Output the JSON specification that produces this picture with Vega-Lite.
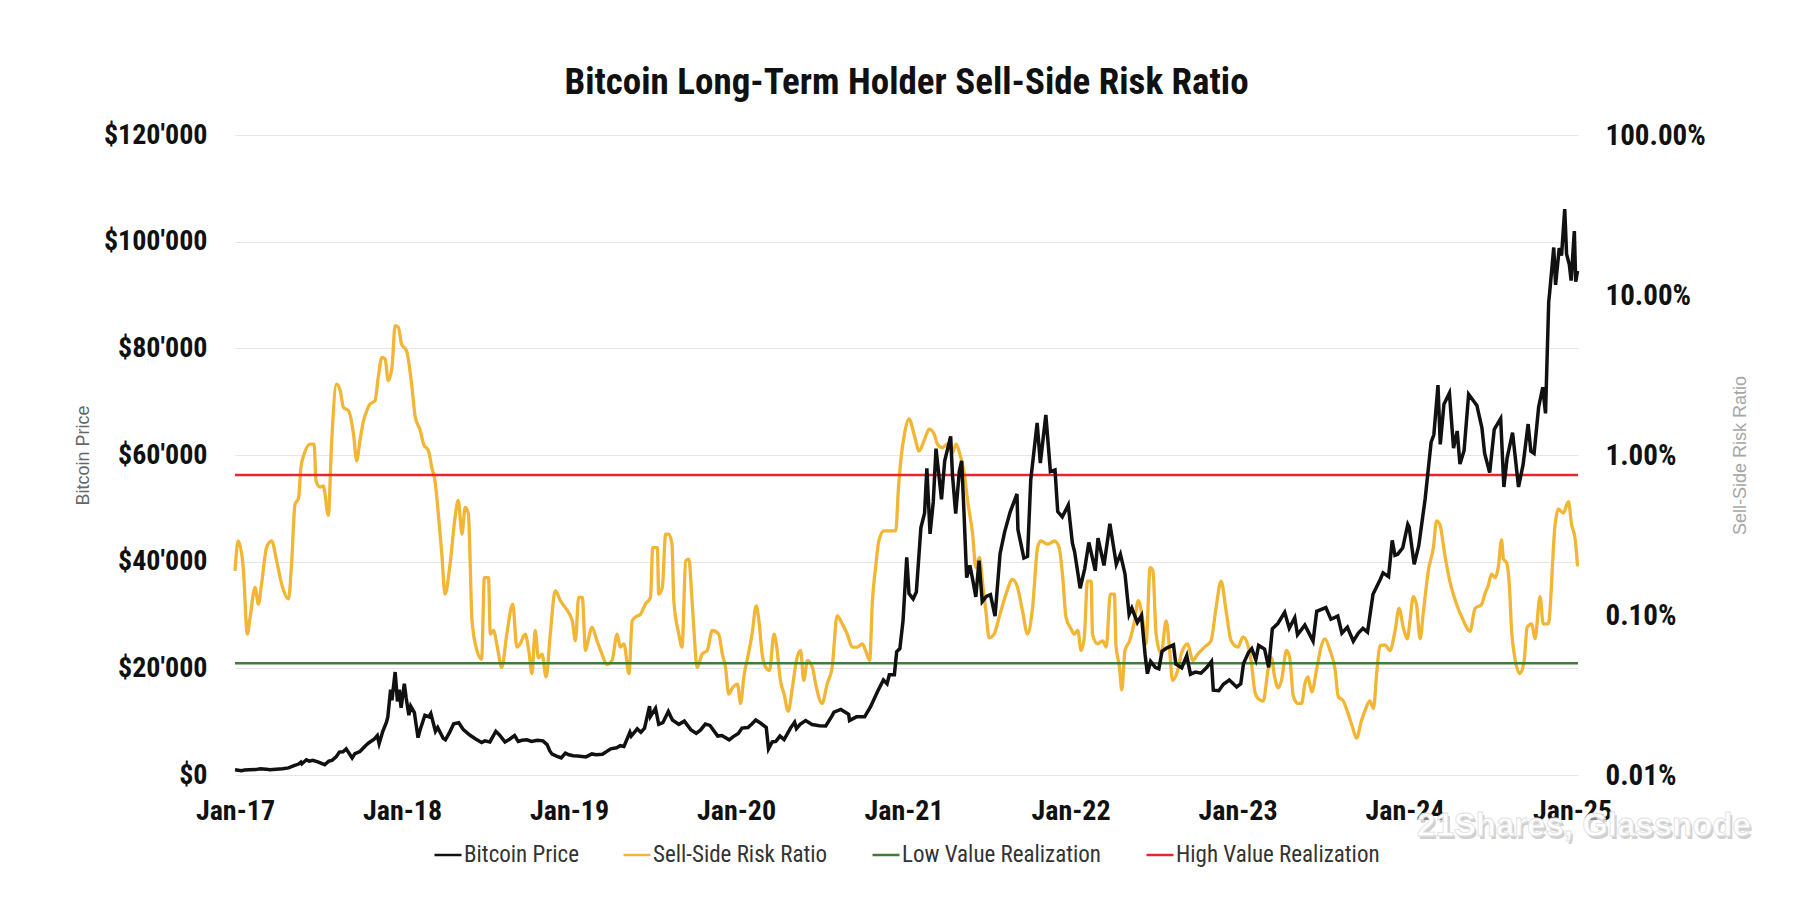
{
  "$schema": "https://vega.github.io/schema/vega-lite/v6.json",
  "autosize": {"type": "none"},
  "width": 1343,
  "height": 640,
  "padding": {"left": 235, "top": 135, "right": 228, "bottom": 139},
  "background": "white",
  "title": {
    "text": "Bitcoin Long-Term Holder Sell-Side Risk Ratio",
    "font": "Liberation Sans Narrow, Roboto Condensed, Roboto",
    "fontSize": 37,
    "fontWeight": "bold",
    "color": "#111111",
    "anchor": "middle",
    "offset": 19
  },
  "config": {
    "view": {"stroke": null},
    "locale": {
      "number": {"decimal": ".", "thousands": "'", "grouping": [3], "currency": ["$", ""]}
    },
    "axis": {
      "domain": false,
      "ticks": false,
      "tickSize": 0,
      "labelFont": "Liberation Sans Narrow, Roboto Condensed, Roboto",
      "labelFontWeight": "bold",
      "labelFontSize": 28,
      "labelColor": "#111111",
      "titleFont": "Liberation Sans",
      "titleFontWeight": "normal",
      "titleFontSize": 18
    },
    "legend": {
      "title": null,
      "orient": "none",
      "legendX": 198,
      "legendY": 705,
      "direction": "horizontal",
      "symbolType": "stroke",
      "symbolSize": 729,
      "symbolStrokeWidth": 2.5,
      "labelFont": "Liberation Sans Narrow, Roboto Condensed, Roboto",
      "labelFontSize": 23,
      "labelColor": "#333333",
      "labelLimit": 0,
      "labelOffset": 1,
      "columnPadding": 39
    }
  },
  "datasets": {
    "price": [
      {"date": "2017-01-01", "price": 998}, {"date": "2017-01-08", "price": 910}, {"date": "2017-01-15", "price": 820},
      {"date": "2017-01-22", "price": 925}, {"date": "2017-02-01", "price": 990}, {"date": "2017-02-15", "price": 1010},
      {"date": "2017-02-25", "price": 1150}, {"date": "2017-03-10", "price": 1100}, {"date": "2017-03-18", "price": 970},
      {"date": "2017-04-01", "price": 1080}, {"date": "2017-04-15", "price": 1180}, {"date": "2017-04-28", "price": 1330},
      {"date": "2017-05-10", "price": 1750}, {"date": "2017-05-20", "price": 2050}, {"date": "2017-05-25", "price": 2400},
      {"date": "2017-05-27", "price": 2100}, {"date": "2017-06-06", "price": 2860}, {"date": "2017-06-12", "price": 2600},
      {"date": "2017-06-20", "price": 2750}, {"date": "2017-07-01", "price": 2450}, {"date": "2017-07-16", "price": 1930},
      {"date": "2017-07-25", "price": 2600}, {"date": "2017-08-01", "price": 2750}, {"date": "2017-08-10", "price": 3400},
      {"date": "2017-08-17", "price": 4300}, {"date": "2017-08-25", "price": 4350}, {"date": "2017-09-01", "price": 4900},
      {"date": "2017-09-14", "price": 3200}, {"date": "2017-09-20", "price": 4000}, {"date": "2017-10-01", "price": 4400},
      {"date": "2017-10-12", "price": 5400}, {"date": "2017-10-20", "price": 6000}, {"date": "2017-11-01", "price": 6700},
      {"date": "2017-11-08", "price": 7400}, {"date": "2017-11-12", "price": 5900}, {"date": "2017-11-20", "price": 8200},
      {"date": "2017-11-28", "price": 9900}, {"date": "2017-12-01", "price": 10900}, {"date": "2017-12-07", "price": 16000},
      {"date": "2017-12-10", "price": 14000}, {"date": "2017-12-17", "price": 19300}, {"date": "2017-12-22", "price": 13800},
      {"date": "2017-12-26", "price": 16000}, {"date": "2017-12-30", "price": 12600}, {"date": "2018-01-06", "price": 17100},
      {"date": "2018-01-10", "price": 14500}, {"date": "2018-01-16", "price": 11200}, {"date": "2018-01-20", "price": 12900},
      {"date": "2018-01-28", "price": 11700}, {"date": "2018-02-05", "price": 7000}, {"date": "2018-02-10", "price": 8600},
      {"date": "2018-02-20", "price": 11200}, {"date": "2018-03-01", "price": 10900}, {"date": "2018-03-05", "price": 11500},
      {"date": "2018-03-15", "price": 8200}, {"date": "2018-03-20", "price": 8900}, {"date": "2018-04-01", "price": 6900},
      {"date": "2018-04-06", "price": 6600}, {"date": "2018-04-15", "price": 8000}, {"date": "2018-04-24", "price": 9600},
      {"date": "2018-05-05", "price": 9800}, {"date": "2018-05-15", "price": 8500}, {"date": "2018-05-29", "price": 7500},
      {"date": "2018-06-10", "price": 6800}, {"date": "2018-06-24", "price": 6100}, {"date": "2018-07-01", "price": 6400},
      {"date": "2018-07-12", "price": 6200}, {"date": "2018-07-25", "price": 8200}, {"date": "2018-08-01", "price": 7600},
      {"date": "2018-08-14", "price": 6200}, {"date": "2018-08-24", "price": 6700}, {"date": "2018-09-04", "price": 7400},
      {"date": "2018-09-12", "price": 6300}, {"date": "2018-09-20", "price": 6500}, {"date": "2018-10-01", "price": 6600},
      {"date": "2018-10-11", "price": 6300}, {"date": "2018-10-24", "price": 6500}, {"date": "2018-11-05", "price": 6400},
      {"date": "2018-11-14", "price": 5700}, {"date": "2018-11-20", "price": 4500}, {"date": "2018-11-25", "price": 3900},
      {"date": "2018-12-06", "price": 3500}, {"date": "2018-12-15", "price": 3200}, {"date": "2018-12-24", "price": 4100},
      {"date": "2019-01-01", "price": 3800}, {"date": "2019-01-10", "price": 3600}, {"date": "2019-01-20", "price": 3550},
      {"date": "2019-02-07", "price": 3400}, {"date": "2019-02-20", "price": 3950}, {"date": "2019-03-01", "price": 3820},
      {"date": "2019-03-15", "price": 3900}, {"date": "2019-04-02", "price": 4900}, {"date": "2019-04-15", "price": 5100},
      {"date": "2019-04-23", "price": 5500}, {"date": "2019-05-01", "price": 5350}, {"date": "2019-05-14", "price": 8000},
      {"date": "2019-05-17", "price": 7300}, {"date": "2019-05-30", "price": 8650}, {"date": "2019-06-07", "price": 8000},
      {"date": "2019-06-15", "price": 8800}, {"date": "2019-06-26", "price": 12900}, {"date": "2019-06-28", "price": 11000},
      {"date": "2019-07-09", "price": 12500}, {"date": "2019-07-16", "price": 9500}, {"date": "2019-07-25", "price": 9800},
      {"date": "2019-08-06", "price": 11900}, {"date": "2019-08-15", "price": 10300}, {"date": "2019-08-29", "price": 9500},
      {"date": "2019-09-10", "price": 10100}, {"date": "2019-09-24", "price": 8500}, {"date": "2019-10-06", "price": 7800},
      {"date": "2019-10-15", "price": 8400}, {"date": "2019-10-26", "price": 9550}, {"date": "2019-11-05", "price": 9300},
      {"date": "2019-11-22", "price": 7300}, {"date": "2019-12-01", "price": 7400}, {"date": "2019-12-17", "price": 6600},
      {"date": "2019-12-26", "price": 7200}, {"date": "2020-01-06", "price": 7800}, {"date": "2020-01-14", "price": 8800},
      {"date": "2020-01-27", "price": 8900}, {"date": "2020-02-05", "price": 9600}, {"date": "2020-02-13", "price": 10300},
      {"date": "2020-02-24", "price": 9700}, {"date": "2020-03-07", "price": 8900}, {"date": "2020-03-12", "price": 4900},
      {"date": "2020-03-20", "price": 6200}, {"date": "2020-03-28", "price": 6300}, {"date": "2020-04-06", "price": 7300},
      {"date": "2020-04-15", "price": 6650}, {"date": "2020-04-29", "price": 8800}, {"date": "2020-05-08", "price": 9900},
      {"date": "2020-05-12", "price": 8700}, {"date": "2020-05-20", "price": 9500}, {"date": "2020-06-01", "price": 10200},
      {"date": "2020-06-15", "price": 9450}, {"date": "2020-07-01", "price": 9250}, {"date": "2020-07-15", "price": 9200},
      {"date": "2020-07-28", "price": 11000}, {"date": "2020-08-02", "price": 11800}, {"date": "2020-08-17", "price": 12300},
      {"date": "2020-09-03", "price": 11400}, {"date": "2020-09-05", "price": 10200}, {"date": "2020-09-20", "price": 10900},
      {"date": "2020-10-08", "price": 10900}, {"date": "2020-10-21", "price": 12800}, {"date": "2020-11-05", "price": 15600},
      {"date": "2020-11-18", "price": 17800}, {"date": "2020-11-26", "price": 17100}, {"date": "2020-12-01", "price": 18800},
      {"date": "2020-12-12", "price": 18800}, {"date": "2020-12-17", "price": 23100}, {"date": "2020-12-24", "price": 23700},
      {"date": "2020-12-31", "price": 29000}, {"date": "2021-01-08", "price": 40800}, {"date": "2021-01-13", "price": 34000},
      {"date": "2021-01-22", "price": 33000}, {"date": "2021-01-29", "price": 34300}, {"date": "2021-02-08", "price": 46400},
      {"date": "2021-02-16", "price": 49100}, {"date": "2021-02-21", "price": 57500}, {"date": "2021-02-28", "price": 45200},
      {"date": "2021-03-07", "price": 51200}, {"date": "2021-03-13", "price": 61200}, {"date": "2021-03-25", "price": 51700},
      {"date": "2021-04-01", "price": 58900}, {"date": "2021-04-14", "price": 63500}, {"date": "2021-04-18", "price": 56200},
      {"date": "2021-04-25", "price": 49000}, {"date": "2021-05-03", "price": 57000}, {"date": "2021-05-08", "price": 58900},
      {"date": "2021-05-13", "price": 49500}, {"date": "2021-05-19", "price": 37000}, {"date": "2021-05-26", "price": 39300},
      {"date": "2021-06-01", "price": 36700}, {"date": "2021-06-08", "price": 33400}, {"date": "2021-06-15", "price": 40200},
      {"date": "2021-06-22", "price": 32500}, {"date": "2021-07-01", "price": 33500}, {"date": "2021-07-10", "price": 33800},
      {"date": "2021-07-20", "price": 29800}, {"date": "2021-07-31", "price": 41500}, {"date": "2021-08-10", "price": 45600},
      {"date": "2021-08-22", "price": 49300}, {"date": "2021-09-06", "price": 52700}, {"date": "2021-09-08", "price": 46000},
      {"date": "2021-09-21", "price": 40700}, {"date": "2021-09-29", "price": 41000}, {"date": "2021-10-06", "price": 55300},
      {"date": "2021-10-20", "price": 66000}, {"date": "2021-10-27", "price": 58500}, {"date": "2021-11-08", "price": 67500},
      {"date": "2021-11-18", "price": 56900}, {"date": "2021-11-28", "price": 57200}, {"date": "2021-12-04", "price": 49400},
      {"date": "2021-12-14", "price": 48400}, {"date": "2021-12-27", "price": 50600}, {"date": "2022-01-05", "price": 43500},
      {"date": "2022-01-10", "price": 41800}, {"date": "2022-01-22", "price": 35000}, {"date": "2022-02-01", "price": 38700},
      {"date": "2022-02-10", "price": 43600}, {"date": "2022-02-24", "price": 38300}, {"date": "2022-03-02", "price": 44400},
      {"date": "2022-03-15", "price": 39300}, {"date": "2022-03-28", "price": 47100}, {"date": "2022-04-11", "price": 39500},
      {"date": "2022-04-20", "price": 41400}, {"date": "2022-04-30", "price": 37700}, {"date": "2022-05-09", "price": 30100},
      {"date": "2022-05-15", "price": 31300}, {"date": "2022-05-27", "price": 28600}, {"date": "2022-06-05", "price": 29900},
      {"date": "2022-06-13", "price": 22500}, {"date": "2022-06-18", "price": 19000}, {"date": "2022-06-25", "price": 21300},
      {"date": "2022-07-05", "price": 20200}, {"date": "2022-07-13", "price": 19900}, {"date": "2022-07-20", "price": 23200},
      {"date": "2022-07-30", "price": 23800}, {"date": "2022-08-14", "price": 24400}, {"date": "2022-08-19", "price": 20800},
      {"date": "2022-09-01", "price": 20100}, {"date": "2022-09-12", "price": 22400}, {"date": "2022-09-20", "price": 18900},
      {"date": "2022-10-01", "price": 19300}, {"date": "2022-10-13", "price": 19100}, {"date": "2022-10-25", "price": 20100},
      {"date": "2022-11-05", "price": 21300}, {"date": "2022-11-09", "price": 15900}, {"date": "2022-11-21", "price": 15800},
      {"date": "2022-12-01", "price": 17000}, {"date": "2022-12-14", "price": 17800}, {"date": "2022-12-30", "price": 16500},
      {"date": "2023-01-08", "price": 17100}, {"date": "2023-01-14", "price": 20900}, {"date": "2023-01-25", "price": 23000},
      {"date": "2023-02-01", "price": 23700}, {"date": "2023-02-10", "price": 21600}, {"date": "2023-02-16", "price": 24300},
      {"date": "2023-03-01", "price": 23600}, {"date": "2023-03-10", "price": 20200}, {"date": "2023-03-18", "price": 27400},
      {"date": "2023-03-30", "price": 28400}, {"date": "2023-04-14", "price": 30500}, {"date": "2023-04-24", "price": 27500},
      {"date": "2023-05-06", "price": 29500}, {"date": "2023-05-12", "price": 26300}, {"date": "2023-05-28", "price": 28100},
      {"date": "2023-06-15", "price": 25100}, {"date": "2023-06-23", "price": 30700}, {"date": "2023-07-13", "price": 31400},
      {"date": "2023-07-24", "price": 29200}, {"date": "2023-08-08", "price": 29800}, {"date": "2023-08-17", "price": 26600},
      {"date": "2023-08-29", "price": 27700}, {"date": "2023-09-11", "price": 25100}, {"date": "2023-09-22", "price": 26600},
      {"date": "2023-10-02", "price": 27500}, {"date": "2023-10-12", "price": 26800}, {"date": "2023-10-24", "price": 33900},
      {"date": "2023-11-09", "price": 36700}, {"date": "2023-11-15", "price": 37900}, {"date": "2023-11-27", "price": 37200},
      {"date": "2023-12-05", "price": 44000}, {"date": "2023-12-11", "price": 41200}, {"date": "2023-12-17", "price": 41400},
      {"date": "2023-12-28", "price": 42600}, {"date": "2024-01-08", "price": 47000}, {"date": "2024-01-11", "price": 46500},
      {"date": "2024-01-22", "price": 39500}, {"date": "2024-02-01", "price": 43000}, {"date": "2024-02-15", "price": 51800},
      {"date": "2024-02-28", "price": 62400}, {"date": "2024-03-05", "price": 63800}, {"date": "2024-03-14", "price": 73100},
      {"date": "2024-03-19", "price": 62000}, {"date": "2024-03-27", "price": 69500}, {"date": "2024-04-08", "price": 71600},
      {"date": "2024-04-17", "price": 61300}, {"date": "2024-04-25", "price": 64500}, {"date": "2024-05-01", "price": 58300},
      {"date": "2024-05-10", "price": 60800}, {"date": "2024-05-20", "price": 71400}, {"date": "2024-06-07", "price": 69300},
      {"date": "2024-06-18", "price": 65100}, {"date": "2024-06-24", "price": 60300}, {"date": "2024-07-05", "price": 56700},
      {"date": "2024-07-15", "price": 64800}, {"date": "2024-07-29", "price": 66800}, {"date": "2024-08-05", "price": 54000},
      {"date": "2024-08-12", "price": 59400}, {"date": "2024-08-24", "price": 64200}, {"date": "2024-09-06", "price": 54000},
      {"date": "2024-09-16", "price": 58200}, {"date": "2024-09-27", "price": 65800}, {"date": "2024-10-03", "price": 60700},
      {"date": "2024-10-10", "price": 60300}, {"date": "2024-10-20", "price": 69000}, {"date": "2024-10-29", "price": 72700},
      {"date": "2024-11-04", "price": 67800}, {"date": "2024-11-11", "price": 88700}, {"date": "2024-11-13", "price": 90400},
      {"date": "2024-11-22", "price": 98900}, {"date": "2024-11-26", "price": 91900}, {"date": "2024-12-04", "price": 98800},
      {"date": "2024-12-09", "price": 97400}, {"date": "2024-12-16", "price": 106100}, {"date": "2024-12-20", "price": 97700},
      {"date": "2024-12-26", "price": 95700}, {"date": "2024-12-30", "price": 92700}, {"date": "2025-01-06", "price": 102000},
      {"date": "2025-01-09", "price": 92500}, {"date": "2025-01-13", "price": 94500}
    ],
    "ratio": [
      {"date": "2017-01-01", "ratio": 0.00189}, {"date": "2017-01-08", "ratio": 0.0029}, {"date": "2017-01-19", "ratio": 0.00198},
      {"date": "2017-01-28", "ratio": 0.00076}, {"date": "2017-02-03", "ratio": 0.00097}, {"date": "2017-02-14", "ratio": 0.00149},
      {"date": "2017-02-21", "ratio": 0.00117}, {"date": "2017-02-28", "ratio": 0.00156}, {"date": "2017-03-11", "ratio": 0.00264},
      {"date": "2017-03-22", "ratio": 0.0029}, {"date": "2017-04-02", "ratio": 0.00218}, {"date": "2017-04-13", "ratio": 0.00156},
      {"date": "2017-04-28", "ratio": 0.00126}, {"date": "2017-05-05", "ratio": 0.00218}, {"date": "2017-05-12", "ratio": 0.0049},
      {"date": "2017-05-20", "ratio": 0.0054}, {"date": "2017-05-25", "ratio": 0.00836}, {"date": "2017-06-01", "ratio": 0.0101},
      {"date": "2017-06-14", "ratio": 0.0117}, {"date": "2017-06-23", "ratio": 0.0117}, {"date": "2017-06-27", "ratio": 0.0069},
      {"date": "2017-07-06", "ratio": 0.0063}, {"date": "2017-07-13", "ratio": 0.0064}, {"date": "2017-07-24", "ratio": 0.0042},
      {"date": "2017-07-31", "ratio": 0.0117}, {"date": "2017-08-11", "ratio": 0.0277}, {"date": "2017-08-19", "ratio": 0.0252},
      {"date": "2017-08-26", "ratio": 0.0198}, {"date": "2017-09-06", "ratio": 0.0189}, {"date": "2017-09-17", "ratio": 0.0135},
      {"date": "2017-09-24", "ratio": 0.0092}, {"date": "2017-10-01", "ratio": 0.0123}, {"date": "2017-10-09", "ratio": 0.0164},
      {"date": "2017-10-16", "ratio": 0.0189}, {"date": "2017-10-23", "ratio": 0.0208}, {"date": "2017-11-03", "ratio": 0.0218},
      {"date": "2017-11-10", "ratio": 0.0305}, {"date": "2017-11-18", "ratio": 0.0407}, {"date": "2017-11-25", "ratio": 0.0398},
      {"date": "2017-12-02", "ratio": 0.0291}, {"date": "2017-12-10", "ratio": 0.0353}, {"date": "2017-12-17", "ratio": 0.0643},
      {"date": "2017-12-24", "ratio": 0.0628}, {"date": "2017-12-31", "ratio": 0.0493}, {"date": "2018-01-11", "ratio": 0.0448},
      {"date": "2018-01-22", "ratio": 0.0277}, {"date": "2018-01-30", "ratio": 0.0172}, {"date": "2018-02-10", "ratio": 0.0142},
      {"date": "2018-02-17", "ratio": 0.0117}, {"date": "2018-02-28", "ratio": 0.0106}, {"date": "2018-03-07", "ratio": 0.00836},
      {"date": "2018-03-14", "ratio": 0.0069}, {"date": "2018-03-22", "ratio": 0.0041}, {"date": "2018-03-29", "ratio": 0.0024},
      {"date": "2018-04-05", "ratio": 0.00135}, {"date": "2018-04-16", "ratio": 0.00208}, {"date": "2018-04-27", "ratio": 0.0041},
      {"date": "2018-05-04", "ratio": 0.0052}, {"date": "2018-05-12", "ratio": 0.0032}, {"date": "2018-05-19", "ratio": 0.0047},
      {"date": "2018-05-26", "ratio": 0.0043}, {"date": "2018-06-03", "ratio": 0.00092}, {"date": "2018-06-14", "ratio": 0.000597},
      {"date": "2018-06-24", "ratio": 0.000529}, {"date": "2018-06-30", "ratio": 0.00171}, {"date": "2018-07-09", "ratio": 0.00171},
      {"date": "2018-07-13", "ratio": 0.00076}, {"date": "2018-07-20", "ratio": 0.0008}, {"date": "2018-07-27", "ratio": 0.00066},
      {"date": "2018-08-07", "ratio": 0.00047}, {"date": "2018-08-18", "ratio": 0.00076}, {"date": "2018-08-31", "ratio": 0.00117},
      {"date": "2018-09-09", "ratio": 0.00063}, {"date": "2018-09-16", "ratio": 0.00066}, {"date": "2018-09-27", "ratio": 0.00076},
      {"date": "2018-10-05", "ratio": 0.0006}, {"date": "2018-10-12", "ratio": 0.00043}, {"date": "2018-10-19", "ratio": 0.0008},
      {"date": "2018-10-26", "ratio": 0.00054}, {"date": "2018-11-03", "ratio": 0.00057}, {"date": "2018-11-12", "ratio": 0.00041},
      {"date": "2018-11-21", "ratio": 0.00076}, {"date": "2018-12-02", "ratio": 0.00142}, {"date": "2018-12-13", "ratio": 0.00123},
      {"date": "2018-12-24", "ratio": 0.00111}, {"date": "2019-01-08", "ratio": 0.00092}, {"date": "2019-01-15", "ratio": 0.00069},
      {"date": "2019-01-22", "ratio": 0.00129}, {"date": "2019-01-30", "ratio": 0.00129}, {"date": "2019-02-06", "ratio": 0.0006},
      {"date": "2019-02-13", "ratio": 0.00072}, {"date": "2019-02-20", "ratio": 0.00084}, {"date": "2019-03-03", "ratio": 0.00069},
      {"date": "2019-03-14", "ratio": 0.00057}, {"date": "2019-03-25", "ratio": 0.00049}, {"date": "2019-04-05", "ratio": 0.00052},
      {"date": "2019-04-16", "ratio": 0.00076}, {"date": "2019-04-23", "ratio": 0.00063}, {"date": "2019-05-01", "ratio": 0.00066},
      {"date": "2019-05-12", "ratio": 0.00043}, {"date": "2019-05-19", "ratio": 0.00092}, {"date": "2019-05-26", "ratio": 0.00097},
      {"date": "2019-06-06", "ratio": 0.00101}, {"date": "2019-06-17", "ratio": 0.00117}, {"date": "2019-06-28", "ratio": 0.00129},
      {"date": "2019-07-03", "ratio": 0.00264}, {"date": "2019-07-13", "ratio": 0.00264}, {"date": "2019-07-16", "ratio": 0.00135},
      {"date": "2019-07-24", "ratio": 0.00149}, {"date": "2019-07-31", "ratio": 0.0032}, {"date": "2019-08-07", "ratio": 0.0032},
      {"date": "2019-08-14", "ratio": 0.00277}, {"date": "2019-08-18", "ratio": 0.00123}, {"date": "2019-08-29", "ratio": 0.00076},
      {"date": "2019-09-05", "ratio": 0.00063}, {"date": "2019-09-13", "ratio": 0.00218}, {"date": "2019-09-20", "ratio": 0.00223},
      {"date": "2019-09-26", "ratio": 0.00135}, {"date": "2019-10-01", "ratio": 0.0008}, {"date": "2019-10-08", "ratio": 0.00047},
      {"date": "2019-10-19", "ratio": 0.00057}, {"date": "2019-10-30", "ratio": 0.0006}, {"date": "2019-11-10", "ratio": 0.0008},
      {"date": "2019-11-24", "ratio": 0.00076}, {"date": "2019-12-02", "ratio": 0.00057}, {"date": "2019-12-09", "ratio": 0.00047},
      {"date": "2019-12-16", "ratio": 0.00032}, {"date": "2019-12-24", "ratio": 0.00035}, {"date": "2020-01-04", "ratio": 0.00037},
      {"date": "2020-01-11", "ratio": 0.00028}, {"date": "2020-01-18", "ratio": 0.00041}, {"date": "2020-01-28", "ratio": 0.00057},
      {"date": "2020-02-05", "ratio": 0.00076}, {"date": "2020-02-14", "ratio": 0.00114}, {"date": "2020-02-20", "ratio": 0.00092},
      {"date": "2020-02-27", "ratio": 0.00057}, {"date": "2020-03-06", "ratio": 0.00047}, {"date": "2020-03-14", "ratio": 0.00045},
      {"date": "2020-03-24", "ratio": 0.00076}, {"date": "2020-03-29", "ratio": 0.00066}, {"date": "2020-04-07", "ratio": 0.00039},
      {"date": "2020-04-15", "ratio": 0.00032}, {"date": "2020-04-24", "ratio": 0.00025}, {"date": "2020-05-03", "ratio": 0.00035},
      {"date": "2020-05-12", "ratio": 0.00052}, {"date": "2020-05-21", "ratio": 0.0006}, {"date": "2020-05-28", "ratio": 0.00039},
      {"date": "2020-06-05", "ratio": 0.00052}, {"date": "2020-06-16", "ratio": 0.00047}, {"date": "2020-06-23", "ratio": 0.00037},
      {"date": "2020-07-07", "ratio": 0.00028}, {"date": "2020-07-18", "ratio": 0.00037}, {"date": "2020-07-29", "ratio": 0.00047},
      {"date": "2020-08-09", "ratio": 0.00099}, {"date": "2020-08-20", "ratio": 0.00088}, {"date": "2020-08-31", "ratio": 0.00076},
      {"date": "2020-09-11", "ratio": 0.00063}, {"date": "2020-09-22", "ratio": 0.00063}, {"date": "2020-10-03", "ratio": 0.00066},
      {"date": "2020-10-10", "ratio": 0.0006}, {"date": "2020-10-19", "ratio": 0.00052}, {"date": "2020-10-25", "ratio": 0.00123},
      {"date": "2020-11-01", "ratio": 0.00198}, {"date": "2020-11-08", "ratio": 0.0029}, {"date": "2020-11-19", "ratio": 0.00336},
      {"date": "2020-12-04", "ratio": 0.00336}, {"date": "2020-12-15", "ratio": 0.00336}, {"date": "2020-12-21", "ratio": 0.0063},
      {"date": "2020-12-26", "ratio": 0.0092}, {"date": "2021-01-03", "ratio": 0.0135}, {"date": "2021-01-13", "ratio": 0.0168},
      {"date": "2021-01-24", "ratio": 0.0135}, {"date": "2021-02-04", "ratio": 0.0106}, {"date": "2021-02-15", "ratio": 0.0123},
      {"date": "2021-02-26", "ratio": 0.0145}, {"date": "2021-03-09", "ratio": 0.0135}, {"date": "2021-03-16", "ratio": 0.0117},
      {"date": "2021-03-27", "ratio": 0.0111}, {"date": "2021-04-07", "ratio": 0.0117}, {"date": "2021-04-18", "ratio": 0.0104},
      {"date": "2021-04-26", "ratio": 0.0117}, {"date": "2021-05-05", "ratio": 0.0099}, {"date": "2021-05-14", "ratio": 0.0076},
      {"date": "2021-05-21", "ratio": 0.0052}, {"date": "2021-06-01", "ratio": 0.0032}, {"date": "2021-06-08", "ratio": 0.00198},
      {"date": "2021-06-16", "ratio": 0.00229}, {"date": "2021-06-23", "ratio": 0.00156}, {"date": "2021-06-30", "ratio": 0.00106},
      {"date": "2021-07-07", "ratio": 0.00072}, {"date": "2021-07-18", "ratio": 0.00076}, {"date": "2021-07-29", "ratio": 0.00097},
      {"date": "2021-08-13", "ratio": 0.00135}, {"date": "2021-08-27", "ratio": 0.00167}, {"date": "2021-09-07", "ratio": 0.00149},
      {"date": "2021-09-18", "ratio": 0.00106}, {"date": "2021-09-29", "ratio": 0.00076}, {"date": "2021-10-10", "ratio": 0.00111},
      {"date": "2021-10-21", "ratio": 0.00264}, {"date": "2021-10-28", "ratio": 0.0029}, {"date": "2021-11-12", "ratio": 0.00277},
      {"date": "2021-11-27", "ratio": 0.0029}, {"date": "2021-12-07", "ratio": 0.00264}, {"date": "2021-12-15", "ratio": 0.00171},
      {"date": "2021-12-22", "ratio": 0.00097}, {"date": "2022-01-02", "ratio": 0.00082}, {"date": "2022-01-09", "ratio": 0.00076},
      {"date": "2022-01-17", "ratio": 0.0008}, {"date": "2022-01-24", "ratio": 0.0006}, {"date": "2022-01-31", "ratio": 0.00072},
      {"date": "2022-02-07", "ratio": 0.00163}, {"date": "2022-02-15", "ratio": 0.00163}, {"date": "2022-02-18", "ratio": 0.00076},
      {"date": "2022-03-01", "ratio": 0.00066}, {"date": "2022-03-12", "ratio": 0.00069}, {"date": "2022-03-20", "ratio": 0.00063},
      {"date": "2022-03-29", "ratio": 0.00135}, {"date": "2022-04-07", "ratio": 0.00135}, {"date": "2022-04-10", "ratio": 0.00066},
      {"date": "2022-04-18", "ratio": 0.00047}, {"date": "2022-04-23", "ratio": 0.00034}, {"date": "2022-04-30", "ratio": 0.0006},
      {"date": "2022-05-10", "ratio": 0.00069}, {"date": "2022-05-21", "ratio": 0.00092}, {"date": "2022-05-29", "ratio": 0.00123},
      {"date": "2022-06-08", "ratio": 0.00092}, {"date": "2022-06-15", "ratio": 0.00066}, {"date": "2022-06-24", "ratio": 0.00198},
      {"date": "2022-06-30", "ratio": 0.00189}, {"date": "2022-07-07", "ratio": 0.00076}, {"date": "2022-07-18", "ratio": 0.00057},
      {"date": "2022-07-29", "ratio": 0.00092}, {"date": "2022-08-05", "ratio": 0.00063}, {"date": "2022-08-12", "ratio": 0.00039},
      {"date": "2022-08-23", "ratio": 0.00045}, {"date": "2022-08-31", "ratio": 0.00057}, {"date": "2022-09-14", "ratio": 0.00066},
      {"date": "2022-09-25", "ratio": 0.00052}, {"date": "2022-10-06", "ratio": 0.00057}, {"date": "2022-10-21", "ratio": 0.00063},
      {"date": "2022-11-04", "ratio": 0.00069}, {"date": "2022-11-15", "ratio": 0.00111}, {"date": "2022-11-26", "ratio": 0.00163},
      {"date": "2022-12-07", "ratio": 0.00106}, {"date": "2022-12-18", "ratio": 0.00069}, {"date": "2023-01-02", "ratio": 0.00063},
      {"date": "2023-01-13", "ratio": 0.00073}, {"date": "2023-01-24", "ratio": 0.00064}, {"date": "2023-01-31", "ratio": 0.00051},
      {"date": "2023-02-08", "ratio": 0.00033}, {"date": "2023-02-15", "ratio": 0.0003}, {"date": "2023-02-26", "ratio": 0.00029},
      {"date": "2023-03-09", "ratio": 0.00046}, {"date": "2023-03-16", "ratio": 0.00054}, {"date": "2023-03-23", "ratio": 0.00041},
      {"date": "2023-03-31", "ratio": 0.00035}, {"date": "2023-04-07", "ratio": 0.00039}, {"date": "2023-04-18", "ratio": 0.0006},
      {"date": "2023-04-25", "ratio": 0.00054}, {"date": "2023-05-03", "ratio": 0.00031}, {"date": "2023-05-13", "ratio": 0.00028},
      {"date": "2023-05-21", "ratio": 0.00028}, {"date": "2023-05-28", "ratio": 0.00037}, {"date": "2023-06-04", "ratio": 0.00041},
      {"date": "2023-06-12", "ratio": 0.00033}, {"date": "2023-06-23", "ratio": 0.00046}, {"date": "2023-07-03", "ratio": 0.00064},
      {"date": "2023-07-11", "ratio": 0.00071}, {"date": "2023-07-22", "ratio": 0.0006}, {"date": "2023-08-02", "ratio": 0.00046},
      {"date": "2023-08-09", "ratio": 0.00031}, {"date": "2023-08-20", "ratio": 0.00029}, {"date": "2023-08-31", "ratio": 0.00024},
      {"date": "2023-09-09", "ratio": 0.0002}, {"date": "2023-09-18", "ratio": 0.00017}, {"date": "2023-09-29", "ratio": 0.00022},
      {"date": "2023-10-06", "ratio": 0.00025}, {"date": "2023-10-17", "ratio": 0.00029}, {"date": "2023-10-25", "ratio": 0.00026},
      {"date": "2023-11-01", "ratio": 0.00043}, {"date": "2023-11-08", "ratio": 0.00064}, {"date": "2023-11-19", "ratio": 0.00065},
      {"date": "2023-11-30", "ratio": 0.0006}, {"date": "2023-12-11", "ratio": 0.00079}, {"date": "2023-12-20", "ratio": 0.0011},
      {"date": "2023-12-29", "ratio": 0.00084}, {"date": "2024-01-07", "ratio": 0.00071}, {"date": "2024-01-13", "ratio": 0.00093},
      {"date": "2024-01-20", "ratio": 0.0013}, {"date": "2024-01-27", "ratio": 0.00116}, {"date": "2024-02-04", "ratio": 0.00071},
      {"date": "2024-02-11", "ratio": 0.00104}, {"date": "2024-02-22", "ratio": 0.0019}, {"date": "2024-03-04", "ratio": 0.00265},
      {"date": "2024-03-11", "ratio": 0.00388}, {"date": "2024-03-18", "ratio": 0.00368}, {"date": "2024-03-29", "ratio": 0.00237},
      {"date": "2024-04-09", "ratio": 0.00162}, {"date": "2024-04-24", "ratio": 0.00116}, {"date": "2024-05-08", "ratio": 0.00093},
      {"date": "2024-05-23", "ratio": 0.00079}, {"date": "2024-06-03", "ratio": 0.0011}, {"date": "2024-06-17", "ratio": 0.00116},
      {"date": "2024-06-25", "ratio": 0.00137}, {"date": "2024-07-02", "ratio": 0.00153}, {"date": "2024-07-09", "ratio": 0.0018},
      {"date": "2024-07-17", "ratio": 0.00171}, {"date": "2024-07-24", "ratio": 0.00201}, {"date": "2024-07-31", "ratio": 0.00295},
      {"date": "2024-08-04", "ratio": 0.00224}, {"date": "2024-08-11", "ratio": 0.00212}, {"date": "2024-08-17", "ratio": 0.00153},
      {"date": "2024-08-22", "ratio": 0.00079}, {"date": "2024-08-29", "ratio": 0.00054}, {"date": "2024-09-09", "ratio": 0.00043},
      {"date": "2024-09-18", "ratio": 0.00051}, {"date": "2024-09-25", "ratio": 0.00084}, {"date": "2024-10-05", "ratio": 0.00088},
      {"date": "2024-10-12", "ratio": 0.00071}, {"date": "2024-10-23", "ratio": 0.0013}, {"date": "2024-10-30", "ratio": 0.00088},
      {"date": "2024-11-10", "ratio": 0.00088}, {"date": "2024-11-25", "ratio": 0.00368}, {"date": "2024-12-02", "ratio": 0.00458},
      {"date": "2024-12-13", "ratio": 0.00434}, {"date": "2024-12-24", "ratio": 0.00511}, {"date": "2024-12-31", "ratio": 0.00368},
      {"date": "2025-01-08", "ratio": 0.00295}, {"date": "2025-01-13", "ratio": 0.00201}
    ],
    "levels": [
      {"series": "Low Value Realization", "ratio": 0.0005},
      {"series": "High Value Realization", "ratio": 0.0075}
    ],
    "credit": [
      {"label": "21Shares, Glassnode", "date": "2025-01-27", "price": -9600}
    ]
  },
  "resolve": {"scale": {"y": "independent"}},
  "layer": [
    {
      "layer": [
        {
          "data": {"name": "ratio"},
          "mark": {"type": "line", "strokeWidth": 3.3, "interpolate": "monotone"},
          "encoding": {
            "x": {
              "field": "date",
              "type": "temporal",
              "title": null,
              "scale": {"domain": ["2017-01-01", "2025-01-14"]},
              "axis": {
                "format": "%b-%y",
                "labelPadding": 22,
                "grid": false,
                "labelFlush": false,
                "values": [
                  {"year": 2017, "month": 1, "date": 1}, {"year": 2018, "month": 1, "date": 1},
                  {"year": 2019, "month": 1, "date": 1}, {"year": 2020, "month": 1, "date": 1},
                  {"year": 2021, "month": 1, "date": 1}, {"year": 2022, "month": 1, "date": 1},
                  {"year": 2023, "month": 1, "date": 1}, {"year": 2024, "month": 1, "date": 1},
                  {"year": 2025, "month": 1, "date": 1}
                ]
              }
            },
            "y": {
              "field": "ratio",
              "type": "quantitative",
              "scale": {"type": "log", "domain": [0.0001, 1]},
              "axis": {
                "orient": "right",
                "title": "Sell-Side Risk Ratio",
                "titleColor": "#a6a6a6",
                "titleAngle": 270,
                "titlePadding": 44,
                "labelPadding": 27,
                "labelFontSize": 29,
                "format": ".2%",
                "grid": false,
                "values": [0.0001, 0.001, 0.01, 0.1, 1]
              }
            },
            "color": {
              "datum": "Sell-Side Risk Ratio",
              "type": "nominal",
              "scale": {
                "domain": ["Bitcoin Price", "Sell-Side Risk Ratio", "Low Value Realization", "High Value Realization"],
                "range": ["#111111", "#f2b534", "#3f7f35", "#e8262d"]
              },
              "legend": {"title": null}
            }
          }
        },
        {
          "data": {"name": "levels"},
          "mark": {"type": "rule", "strokeWidth": 2.5},
          "encoding": {
            "y": {"field": "ratio", "type": "quantitative"},
            "color": {"field": "series", "type": "nominal", "legend": {"title": null}}
          }
        }
      ]
    },
    {
      "layer": [
        {
          "data": {"name": "price"},
          "mark": {"type": "line", "strokeWidth": 3.5},
          "encoding": {
            "x": {"field": "date", "type": "temporal"},
            "y": {
              "field": "price",
              "type": "quantitative",
              "scale": {"domain": [0, 120000]},
              "axis": {
                "orient": "left",
                "title": "Bitcoin Price",
                "titleColor": "#666666",
                "titlePadding": 11,
                "labelPadding": 28,
                "format": "$,.0f",
                "grid": true,
                "gridColor": "#e6e6e6",
                "gridWidth": 1.2,
                "values": [0, 20000, 40000, 60000, 80000, 100000, 120000]
              }
            },
            "color": {"datum": "Bitcoin Price", "type": "nominal"}
          }
        },
        {
          "data": {"name": "credit"},
          "mark": {"type": "text", "font": "Liberation Sans", "fontWeight": "bold", "fontSize": 33, "fill": "#bdbdbd", "opacity": 0.7, "dx": 2, "dy": 3},
          "encoding": {
            "x": {"field": "date", "type": "temporal"},
            "y": {"field": "price", "type": "quantitative"},
            "text": {"field": "label"}
          }
        },
        {
          "data": {"name": "credit"},
          "mark": {"type": "text", "font": "Liberation Sans", "fontWeight": "bold", "fontSize": 33, "fill": "#ffffff", "stroke": "#e0e0e0", "strokeWidth": 0.8},
          "encoding": {
            "x": {"field": "date", "type": "temporal"},
            "y": {"field": "price", "type": "quantitative"},
            "text": {"field": "label"}
          }
        }
      ]
    }
  ]
}
